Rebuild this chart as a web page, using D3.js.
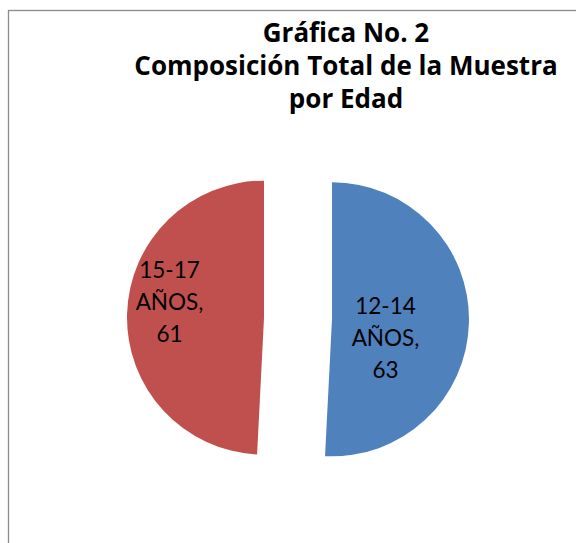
<!DOCTYPE html>
<html><head><meta charset="utf-8">
<script src="https://cdn.jsdelivr.net/npm/d3@7"></script>
<style>body{margin:0;background:#fff}</style>
</head><body>
<script>
const categories = ["12-14 AÑOS", "15-17 AÑOS"];
const values = [63, 61];
const colors = ["#4F81BD", "#C0504D"];
const titleLines = ["Gráfica No. 2", "Composición Total de la Muestra", "por Edad"];

const W = 576, H = 543;
const svg = d3.select("body").append("svg").attr("width", W).attr("height", H);
svg.append("rect").attr("width", W).attr("height", H).attr("fill", "#fff");
svg.append("rect").attr("x", 8.5).attr("y", 10.5).attr("width", W + 10).attr("height", H + 10)
  .attr("fill", "none").attr("stroke", "#8c8c8c").attr("stroke-width", 1.3);

const title = svg.append("text").attr("text-anchor", "middle")
  .attr("font-family", "'Open Sans', sans-serif").attr("font-weight", "bold")
  .attr("font-size", 26).attr("fill", "#000");
titleLines.forEach((t, i) => {
  title.append("tspan").attr("x", 346).attr("y", 42 + i * 33).text(t);
});

const cx = 298, cy = 318.5, R = 137, explode = 34;
const pie = d3.pie().sort(null).value(d => d)(values);
const arc = d3.arc().innerRadius(0).outerRadius(R);
const g = svg.append("g").attr("transform", `translate(${cx},${cy})`);
const labelPos = [[87.5, -4.2], [-128.5, -40.5]];
pie.forEach((p, i) => {
  const mid = (p.startAngle + p.endAngle) / 2;
  const dx = Math.sin(mid) * explode, dy = -Math.cos(mid) * explode;
  const sg = g.append("g").attr("transform", `translate(${dx},${dy})`);
  sg.append("path").attr("d", arc(p)).attr("fill", colors[i]);
  const parts = categories[i].split(" ");
  const lines = [parts[0], parts[1] + ",", String(values[i])];
  const txt = g.append("text").attr("text-anchor", "middle")
    .attr("font-family", "Lato, sans-serif").attr("font-size", 22.5).attr("fill", "#000");
  lines.forEach((l, j) => {
    txt.append("tspan").attr("x", labelPos[i][0]).attr("y", labelPos[i][1] + j * 32).text(l);
  });
});
</script>
</body></html>
